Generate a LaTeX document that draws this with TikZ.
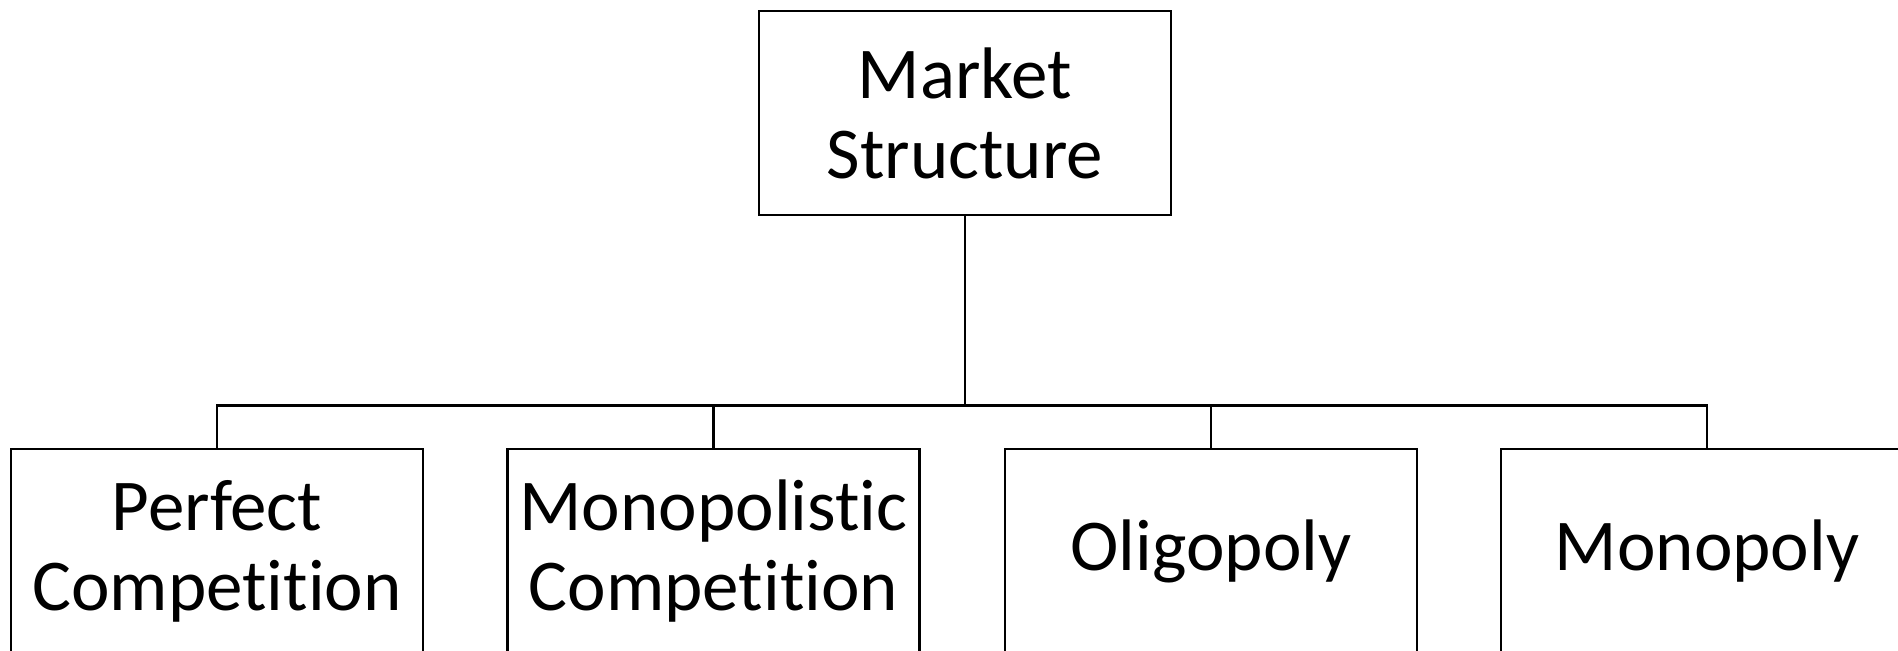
\documentclass[tikz,border=0pt]{standalone}
\usepackage{fontspec}
\setmainfont{Carlito}[Ligatures={NoCommon,NoRare,NoDiscretionary,NoContextual}]
\begin{document}
\begin{tikzpicture}[x=0.75pt,y=-0.75pt,
  box/.style={draw=black,line width=1.65pt,fill=white,minimum width=309pt,minimum height=153pt,inner sep=0pt,align=center,
    font=\fontsize{54.75pt}{60pt}\selectfont},
  conn/.style={draw=black,line width=1.65pt}]
\useasboundingbox (0,0) rectangle (1898,650);
\node[box] (top) at (965,113) {Market\\Structure};
\node[box] (c1) at (217,551) {Perfect\\Competition};
\node[box] (c2) at (713.5,551) {Monopolistic\\Competition};
\node[box] (c3) at (1211,551) {Oligopoly};
\node[box] (c4) at (1707,551) {Monopoly};
\coordinate (bus) at (965,405.5);
\draw[conn] (top.south) -- (bus);
\foreach \c in {c1,c2,c3,c4}{
  \draw[conn,line join=miter] (bus) -| (\c.north);
}
\end{tikzpicture}
\end{document}
